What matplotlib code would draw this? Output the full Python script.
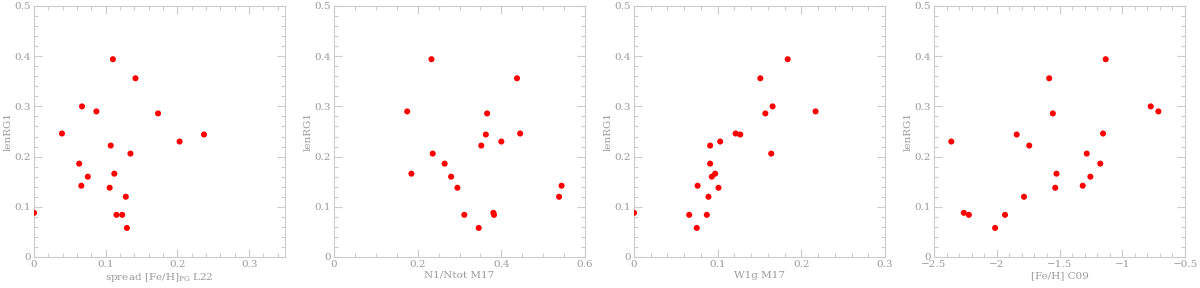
import numpy as np
import matplotlib
matplotlib.use('Agg')
import matplotlib.pyplot as plt
from matplotlib.ticker import MultipleLocator

# lenRG1, shared by all panels
lenrg1 = [0.394, 0.356, 0.300, 0.290, 0.286, 0.246, 0.244, 0.230, 0.222, 0.206,
          0.186, 0.166, 0.160, 0.142, 0.138, 0.120, 0.088, 0.084, 0.084, 0.058]

spread_l22 = [0.110, 0.1415, 0.067, 0.087, 0.173, 0.039, 0.237, 0.203, 0.107, 0.1345,
              0.063, 0.112, 0.075, 0.066, 0.1055, 0.128, 0.0, 0.115, 0.123, 0.1295]
n1ntot_m17 = [0.233, 0.4375, np.nan, 0.175, 0.366, 0.445, 0.363, 0.400, 0.352, 0.236,
              0.2645, 0.185, 0.280, 0.544, 0.295, 0.538, 0.381, 0.3115, 0.3825, 0.346]
w1g_m17 = [0.1837, 0.151, 0.1657, 0.217, 0.157, 0.1215, 0.127, 0.103, 0.091, 0.164,
           0.091, 0.097, 0.093, 0.076, 0.101, 0.089, 0.0, 0.066, 0.087, 0.075]
feh_c09 = [-1.132, -1.582, -0.773, -0.712, -1.553, -1.153, -1.841, -2.362, -1.741, -1.283,
           -1.175, -1.524, -1.254, -1.315, -1.534, -1.783, -2.262, -2.222, -1.934, -2.013]

xdata = [spread_l22, n1ntot_m17, w1g_m17, feh_c09]
xlabels = [r'spread [Fe/H]$_{\rm PG}$ L22', 'N1/Ntot M17', 'W1g M17', '[Fe/H] C09']
xlims = [(0, 0.35), (0, 0.6), (0, 0.3), (-2.5, -0.5)]
xmajor = [0.1, 0.2, 0.1, 0.5]
xminor = [0.02, 0.05, 0.02, 0.1]

grey = '#9a9a9a'
plt.rcParams['font.family'] = 'DejaVu Serif'
plt.rcParams['mathtext.fontset'] = 'dejavuserif'

fig = plt.figure(figsize=(12, 2.88), dpi=100)

def fmt(v, p):
    if abs(v) < 1e-9:
        return '0'
    return ('%g' % v).replace('-', '\u2212')

for i in range(4):
    left = (34 + 300 * i) / 1200
    ax = fig.add_axes([left, 31 / 288, 251 / 1200, 251 / 288])
    ax.scatter(xdata[i], lenrg1, s=19, color='#ff0000', edgecolors='none', zorder=3)
    ax.set_xlim(xlims[i])
    ax.set_ylim(0, 0.5)
    ax.xaxis.set_major_locator(MultipleLocator(xmajor[i]))
    ax.xaxis.set_minor_locator(MultipleLocator(xminor[i]))
    ax.yaxis.set_major_locator(MultipleLocator(0.1))
    ax.yaxis.set_minor_locator(MultipleLocator(0.02))
    ax.tick_params(which='both', direction='in', top=True, right=True,
                   color='#cccccc', labelcolor=grey, labelsize=7.5, pad=2.5)
    ax.tick_params(which='major', length=6, width=0.8)
    ax.tick_params(which='minor', length=3, width=0.8)
    ax.xaxis.set_major_formatter(plt.FuncFormatter(fmt))
    ax.yaxis.set_major_formatter(plt.FuncFormatter(fmt))
    for sp in ax.spines.values():
        sp.set_color('#cccccc')
        sp.set_linewidth(0.8)
    ax.set_xlabel(xlabels[i], color=grey, fontsize=7.5, labelpad=1)
    ax.set_ylabel('lenRG1', color=grey, fontsize=7.5, labelpad=1)

fig.savefig('out.png', dpi=100)
